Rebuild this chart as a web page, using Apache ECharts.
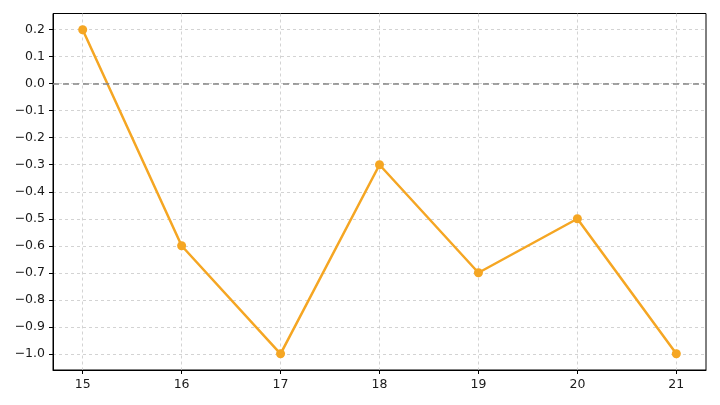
<!DOCTYPE html>
<html><head><meta charset="utf-8">
<script src="https://cdn.jsdelivr.net/npm/echarts@6/dist/echarts.min.js"></script>
<style>html,body{margin:0;padding:0;background:#fff;}#c{width:720px;height:405px;}</style>
</head><body><div id="c"></div>
<script>
const xValues = [15, 16, 17, 18, 19, 20, 21];
const yValues = [0.2, -0.6, -1.0, -0.3, -0.7, -0.5, -1.0];
const yTicks = [0.2, 0.1, 0.0, -0.1, -0.2, -0.3, -0.4, -0.5, -0.6, -0.7, -0.8, -0.9, -1.0];

const chart = echarts.init(document.getElementById('c'), null, {renderer: 'canvas'});
const font = 'DejaVu Sans';
const gridLine = {show: true, lineStyle: {color: '#c8c8c8', type: [3, 3], width: 0.8}};
chart.setOption({
  animation: false,
  grid: {left: 53, right: 14, top: 13.5, bottom: 35, containLabel: false,
         show: true, borderColor: '#000', borderWidth: 1, backgroundColor: 'transparent'},
  xAxis: {
    type: 'value', min: 14.7, max: 21.3,
    axisLine: {show: true, onZero: false, lineStyle: {color: '#000', width: 1}},
    axisTick: {show: true, length: 4, lineStyle: {color: '#000'}, customValues: xValues},
    axisLabel: {customValues: xValues, color: '#1a1a1a', fontFamily: font, fontSize: 12.5, margin: 8,
      formatter: v => String(v)},
    splitLine: gridLine
  },
  yAxis: {
    type: 'value', min: -1.06, max: 0.26,
    axisLine: {show: true, onZero: false, lineStyle: {color: '#000', width: 1}},
    axisTick: {show: true, length: 4, lineStyle: {color: '#000'}, customValues: yTicks},
    axisLabel: {customValues: yTicks, color: '#1a1a1a', fontFamily: font, fontSize: 12.5, margin: 8,
      formatter: v => (v < 0 ? '\u2212' + Math.abs(v).toFixed(1) : v.toFixed(1))},
    splitLine: gridLine
  },
  series: [
    {
      type: 'line',
      data: xValues.map((x, i) => [x, yValues[i]]),
      symbol: 'circle', symbolSize: 9,
      lineStyle: {color: '#f5a623', width: 2.5},
      itemStyle: {color: '#f5a623'},
      markLine: {
        silent: true, symbol: 'none', label: {show: false},
        lineStyle: {color: '#858585', type: [6, 4], width: 1.6},
        data: [{yAxis: 0}]
      },
      z: 3
    }
  ]
});
</script></body></html>
